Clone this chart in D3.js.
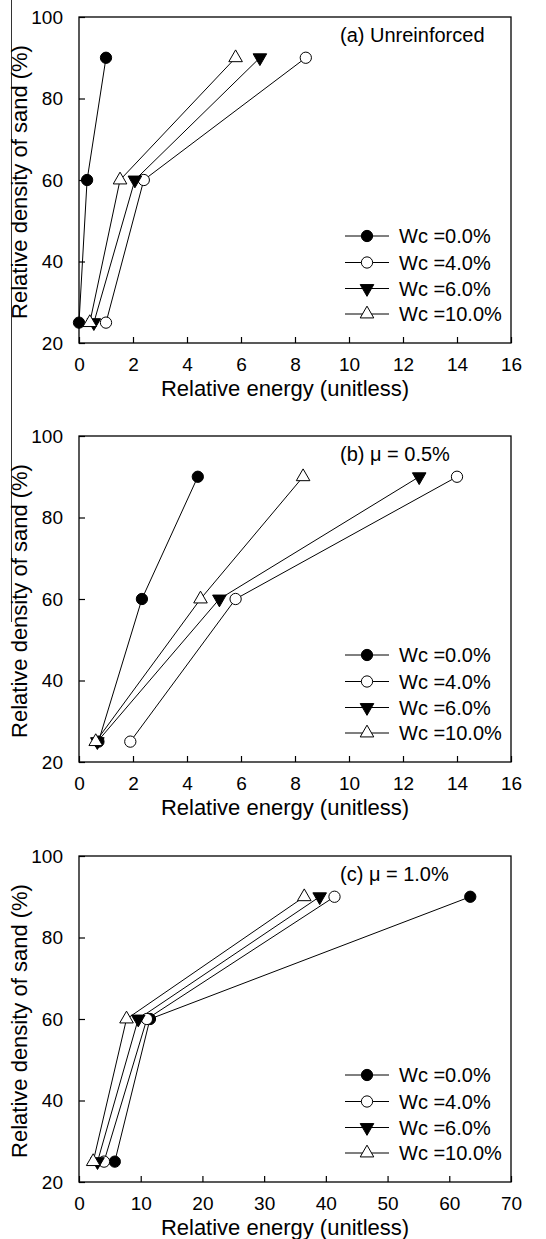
<!DOCTYPE html>
<html>
<head>
<meta charset="utf-8">
<script src="https://cdn.jsdelivr.net/npm/d3@7"></script>
<style>
  body { margin: 0; background: #fff; }
  text { font-family: Arial, "Liberation Sans", sans-serif; fill: #000; }
</style>
</head>
<body>
<svg id="chart" width="546" height="1239"></svg>
<script>
// Relative density of sand (%) for each test
const density = [25, 60, 90];

// Legend labels (water content)
const seriesNames = ["Wc =0.0%", "Wc =4.0%", "Wc =6.0%", "Wc =10.0%"];

// Relative energy, one row per water content, one column per density
const energyUnreinforced = [
  [0.0, 0.3, 1.0],
  [1.0, 2.4, 8.4],
  [0.55, 2.07, 6.7],
  [0.4, 1.52, 5.8]
];
const energyMu05 = [
  [0.72, 2.33, 4.4],
  [1.9, 5.8, 14.0],
  [0.68, 5.2, 12.6],
  [0.62, 4.5, 8.3]
];
const energyMu10 = [
  [5.8, 11.5, 63.4],
  [4.05, 11.0, 41.4],
  [3.0, 9.6, 39.0],
  [2.3, 7.7, 36.5]
];

const panelTitles = ["(a) Unreinforced", "(b) \u03bc = 0.5%", "(c) \u03bc = 1.0%"];
const xMaxes = [16, 16, 70];
const xTickSets = [
  [0, 2, 4, 6, 8, 10, 12, 14, 16],
  [0, 2, 4, 6, 8, 10, 12, 14, 16],
  [0, 10, 20, 30, 40, 50, 60, 70]
];
const yTicks = [20, 40, 60, 80, 100];

const panels = [energyUnreinforced, energyMu05, energyMu10];
const panelTops = [17, 436, 856];

const svg = d3.select("#chart");
const left = 79, width = 432, height = 326;

// marker styles: filled circle, open circle, filled down-triangle, open up-triangle
const markers = [
  { type: d3.symbolCircle, size: 100, fill: "#000", rot: 0 },
  { type: d3.symbolCircle, size: 100, fill: "#fff", rot: 0 },
  { type: d3.symbolTriangle, size: 80, fill: "#000", rot: 180 },
  { type: d3.symbolTriangle, size: 80, fill: "#fff", rot: 0 }
];

function drawMarker(g, m, x, y) {
  g.append("path")
    .attr("d", d3.symbol().type(m.type).size(m.size)())
    .attr("transform", `translate(${x},${y}) rotate(${m.rot})`)
    .attr("fill", m.fill)
    .attr("stroke", "#000")
    .attr("stroke-width", 1);
}

// thin rule at the far left of the page
svg.append("line")
  .attr("x1", 11.5).attr("x2", 11.5)
  .attr("y1", 0).attr("y2", 622)
  .attr("stroke", "#333").attr("stroke-width", 1);

panels.forEach((data, p) => {
  const top = panelTops[p];
  const g = svg.append("g").attr("transform", `translate(${left},${top})`);

  const x = d3.scaleLinear().domain([0, xMaxes[p]]).range([0, width]);
  const y = d3.scaleLinear().domain([20, 100]).range([height, 0]);

  // x axis with inward ticks
  const xAxis = g.append("g")
    .attr("transform", `translate(0,${height})`)
    .call(d3.axisBottom(x).tickValues(xTickSets[p]).tickSize(-6).tickSizeOuter(0).tickPadding(14));
  xAxis.select(".domain").remove();
  xAxis.selectAll("line").attr("stroke", "#000").attr("stroke-width", 1.2);
  xAxis.selectAll("text").attr("font-size", 19).attr("dy", "0.72em");

  // y axis with inward ticks
  const yAxis = g.append("g")
    .call(d3.axisLeft(y).tickValues(yTicks).tickSize(-6).tickSizeOuter(0).tickPadding(16));
  yAxis.select(".domain").remove();
  yAxis.selectAll("line").attr("stroke", "#000").attr("stroke-width", 1.2);
  yAxis.selectAll("text").attr("font-size", 19);

  // frame
  g.append("rect")
    .attr("x", 0).attr("y", 0).attr("width", width).attr("height", height)
    .attr("fill", "none").attr("stroke", "#000").attr("stroke-width", 1.3);

  // series lines
  const line = d3.line().x(d => x(d[0])).y(d => y(d[1]));
  data.forEach((row) => {
    const pts = row.map((e, i) => [e, density[i]]);
    g.append("path").datum(pts)
      .attr("d", line)
      .attr("fill", "none").attr("stroke", "#000").attr("stroke-width", 1);
  });
  // series markers
  data.forEach((row, s) => {
    row.forEach((e, i) => drawMarker(g, markers[s], x(e), y(density[i])));
  });

  // panel title
  g.append("text")
    .attr("x", 261).attr("y", 25)
    .attr("font-size", 20)
    .text(panelTitles[p]);

  // legend
  const legendRows = [219, 245.5, 271.5, 297];
  seriesNames.forEach((name, s) => {
    const ly = legendRows[s];
    g.append("line")
      .attr("x1", 266).attr("x2", 310).attr("y1", ly).attr("y2", ly)
      .attr("stroke", "#000").attr("stroke-width", 1);
    drawMarker(g, markers[s], 288, ly);
    g.append("text")
      .attr("x", 320).attr("y", ly).attr("dy", "0.36em")
      .attr("font-size", 20)
      .text(name);
  });

  // axis titles
  g.append("text")
    .attr("x", 206).attr("y", height + 53)
    .attr("text-anchor", "middle")
    .attr("font-size", 22)
    .text("Relative energy (unitless)");

  g.append("text")
    .attr("transform", `translate(${27 - left},${height / 2 + 2}) rotate(-90)`)
    .attr("text-anchor", "middle")
    .attr("font-size", 22)
    .text("Relative density of sand (%)");
});
</script>
</body>
</html>
